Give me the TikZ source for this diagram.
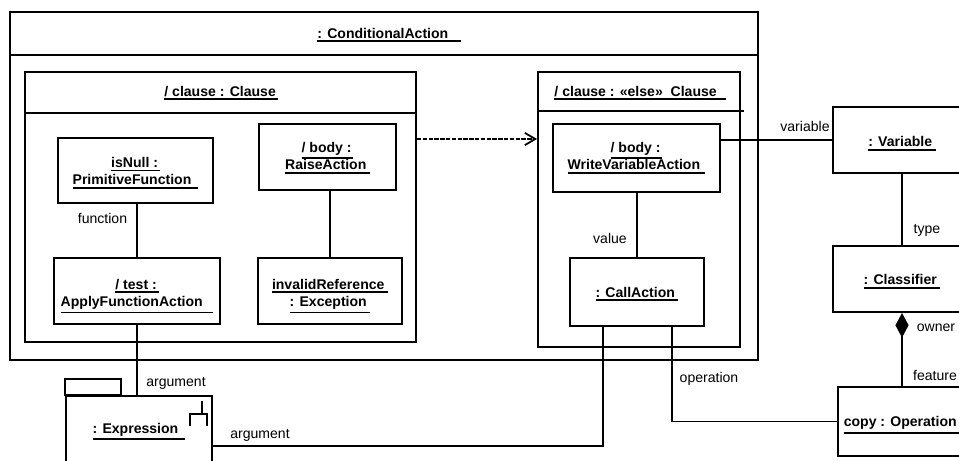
\documentclass[tikz,border=0pt]{standalone}
\usepackage{fontspec}
\setmainfont{Liberation Sans}
\usetikzlibrary{arrows.meta,fit,calc}
% underlined object name: text with a rule a little below the baseline
\newcommand\ulbox[1]{\leavevmode\vtop{\hbox{#1}\kern1.2pt\hrule height 0.9pt}}
\begin{document}
\begin{tikzpicture}[x=0.02cm,y=-0.02cm,
  font=\fontsize{8}{10}\selectfont,
  obj/.style={draw, line width=1.1pt, inner sep=0pt, align=center,
              font=\fontsize{8}{10}\selectfont\bfseries},
  % box spanning the corners (#1,#2) and (#3,#4)
  span/.style n args={4}{at={({(#1+#3)/2},{(#2+#4)/2})},
              minimum width={(#3-#1)*0.02cm}, minimum height={(#4-#2)*0.02cm}},
  txtpos/.style={text depth=0pt, text height=#1},
  ttl/.style={inner sep=0pt, anchor=base, font=\fontsize{8}{10}\selectfont\bfseries},
  lbl/.style={inner sep=0pt, anchor=base},
  conn/.style={line width=1.1pt}]
\useasboundingbox (0,0) rectangle (959,460);
\clip (0,0) rectangle (959,460);

% horizontal reference levels
\coordinate (hCond) at (0,55);
\coordinate (hClause) at (0,113);
\coordinate (hElse) at (0,111);
\coordinate (hDep) at (0,139);

% ConditionalAction container
\node[obj, fit={(10,12)(758,360)}] (cond) {};
\draw[conn] (cond.west |- hCond) -- (cond.east |- hCond);
\node[ttl] (condT) at (389,38) {\ulbox{: ConditionalAction\hspace{7pt}}};

% first clause
\node[obj, fit={(25,72)(416,342)}] (clause) {};
\draw[conn] (clause.west |- hClause) -- (clause.east |- hClause);
\node[ttl] (clauseT) at (221,96) {\ulbox{/ clause : Clause\hspace{1pt}}};

% else clause
\node[obj, fit={(538,72)(740,347)}] (else) {};
\draw[conn] (else.west |- hElse) -- ($(else.east |- hElse)+(3,0)$);
\node[ttl] (elseT) at (640,96) {\ulbox{/ clause : «else»\ \ Clause\hspace{5pt}}};

% objects inside the first clause
\node[obj, span={58}{138}{213}{203}, txtpos=16.4pt] (isnull)
  {\ulbox{isNull :\hspace{1pt}}\\\ulbox{PrimitiveFunction\hspace{4pt}}};
\node[obj, span={259}{124}{396}{190}, txtpos=14.7pt] (raise)
  {\ulbox{/ body :\hspace{1pt}}\\\ulbox{RaiseAction\hspace{2pt}}};
\node[obj, span={54}{258}{220}{324}, txtpos=17.8pt] (apply)
  {\ulbox{/ test :\hspace{1pt}}\\\ulbox{ApplyFunctionAction\hspace{6pt}}};
\node[obj, span={258}{258}{402}{324}, txtpos=18pt] (exc)
  {\ulbox{invalidReference\hspace{2pt}}\\\ulbox{: Exception\hspace{2pt}}};

% objects inside the else clause
\node[obj, span={553}{124}{720}{192}, txtpos=13.6pt] (writevar)
  {\ulbox{/ body :\hspace{1pt}}\\\ulbox{WriteVariableAction\hspace{3pt}}};
\node[obj, span={570}{258}{704}{326}, txtpos=5.7pt] (call) {\ulbox{: CallAction\hspace{2pt}}};

% objects on the right
\node[obj, span={833}{107}{971}{173}, txtpos=7.9pt] (variable) {\ulbox{: Variable\hspace{2pt}}};
\node[obj, span={833}{246}{971}{312}, txtpos=6.8pt] (classifier) {\ulbox{: Classifier\hspace{2pt}}};
\node[obj, span={838}{387}{966}{456}, txtpos=6.2pt] (op) {\ulbox{copy : Operation\hspace{2pt}}};

% expression (body, tab and rake icon)
\node[obj, fit={(66,396)(212,480)}] (expr) {};
\draw[conn] (expr.north west) rectangle ++(56,-16);
\node[ttl] (exprT) at (139,433) {\ulbox{: Expression\hspace{4pt}}};
\draw[line width=1pt] ($(expr.north east)+(-11,6)$) -- ++(0,13)
  ($(expr.north east)+(-23,31)$) -- ++(0,-12) -- ++(17,0) -- ++(0,12);

% links
\draw[conn] (isnull.south -| apply.north) -- (apply.north);
\draw[conn] (raise.south -| exc.north) -- (exc.north);
\draw[conn] (apply.south) -- (apply.south |- expr.north);
\draw[conn] (writevar.south -| call.north) -- (call.north);
\draw[conn] (writevar.east |- variable.west) -- (variable.west);
\draw[conn] (variable.south) -- (classifier.north);
\draw[conn, {Diamond[length=14pt,width=7.5pt]}-] (classifier.south) -- (classifier.south |- op.north);

\coordinate (c1) at ($(call.south west)!0.25!(call.south east)$);
\coordinate (c2) at ($(call.south west)!0.76!(call.south east)$);
\coordinate (exprIn) at ($(expr.north east)+(0,51)$);
\draw[conn] (c1) |- (exprIn);
\draw[conn] (c2) |- (op.west);

% dependency between the clauses
\draw[line width=1pt, dash pattern=on 2.5pt off 0.8pt, -{Straight Barb[length=6pt,width=7pt]}]
  (clause.east |- hDep) -- (else.west |- hDep);

% role names
\node[lbl] (lFunction) at (102.5,223) {function};
\node[lbl] (lValue) at (610,243) {value};
\node[lbl] (lVariable) at (805,131) {variable};
\node[lbl] (lType) at (927,233) {type};
\node[lbl] (lOwner) at (936,331) {owner};
\node[lbl] (lFeature) at (935,380) {feature};
\node[lbl] (lOperation) at (709,382) {operation};
\node[lbl] (lArg1) at (176,386) {argument};
\node[lbl] (lArg2) at (260,438) {argument};
\end{tikzpicture}
\end{document}
